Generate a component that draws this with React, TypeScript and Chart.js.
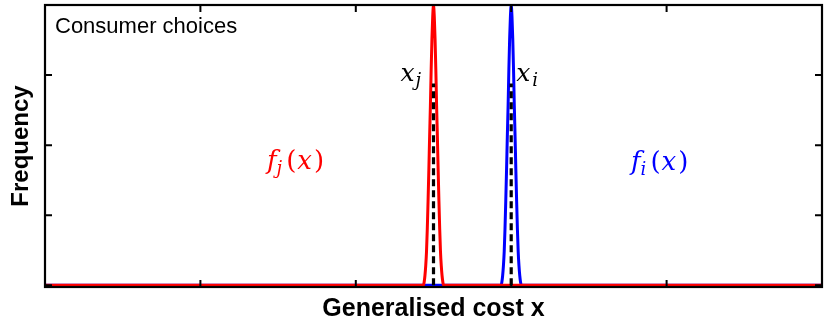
import React, { useEffect, useRef } from "react";
import { Chart, registerables } from "chart.js";

Chart.register(...registerables);

// ---- data ----
const redX = [0, 2.435, 2.44, 2.445, 2.45, 2.455, 2.46, 2.465, 2.47, 2.475, 2.48, 2.485, 2.49, 2.495, 2.5, 2.505, 2.51, 2.515, 2.52, 2.525, 2.53, 2.535, 2.54, 2.545, 2.55, 2.555, 2.56, 2.565, 5];
const redY = [0, 0, 0.012, 0.035, 0.07, 0.12, 0.2, 0.3, 0.41, 0.53, 0.64, 0.77, 0.88, 0.96, 1.0, 0.96, 0.88, 0.77, 0.64, 0.53, 0.41, 0.3, 0.2, 0.12, 0.07, 0.035, 0.012, 0, 0];
const blueX = [0, 2.935, 2.94, 2.945, 2.95, 2.955, 2.96, 2.965, 2.97, 2.975, 2.98, 2.985, 2.99, 2.995, 3.0, 3.005, 3.01, 3.015, 3.02, 3.025, 3.03, 3.035, 3.04, 3.045, 3.05, 3.055, 3.06, 3.065, 5];
const blueY = [0, 0, 0.012, 0.035, 0.07, 0.12, 0.2, 0.3, 0.41, 0.53, 0.64, 0.77, 0.88, 0.96, 1.0, 0.96, 0.88, 0.77, 0.64, 0.53, 0.41, 0.3, 0.2, 0.12, 0.07, 0.035, 0.012, 0, 0];
const markerJ = [2.5, 2.5];
const markerI = [3.0, 3.0];
const markerY = [0, 0.72];

const xMin = 0;
const xMax = 5;
const xStep = 1;
const yMin = -0.006;
const yMax = 1;
const yStep = 0.25;

const panelTitle = "Consumer choices";
const xTitle = "Generalised cost x";
const yTitle = "Frequency";

const RED = "#ff0000";
const BLUE = "#0000ff";

type Run = { t: string; italic?: boolean; sub?: boolean; gap?: number };

function drawMath(ctx: CanvasRenderingContext2D, runs: Run[], x: number, y: number, color: string, size: number) {
  let cx = x;
  ctx.fillStyle = color;
  ctx.textBaseline = "alphabetic";
  ctx.textAlign = "left";
  for (const r of runs) {
    const s = r.sub ? Math.round(size * 0.7) : size;
    ctx.font = `${r.italic ? "italic " : ""}${s}px "DejaVu Serif", serif`;
    const yy = r.sub ? y + 5 : y;
    ctx.fillText(r.t, cx, yy);
    cx += ctx.measureText(r.t).width + (r.gap || 0);
  }
}

const overlay = {
  id: "overlay",
  afterDatasetsDraw(chart: any) {
    const { ctx, chartArea: a, scales } = chart;
    const xs = scales.x;
    const ys = scales.y;
    ctx.save();
    // frame
    ctx.strokeStyle = "#000";
    ctx.lineWidth = 2.2;
    ctx.strokeRect(a.left, a.top, a.right - a.left, a.bottom - a.top);
    // inward ticks
    ctx.lineWidth = 2;
    const tl = 7;
    for (const t of xs.ticks) {
      const px = xs.getPixelForValue(t.value);
      ctx.beginPath();
      ctx.moveTo(px, a.bottom);
      ctx.lineTo(px, a.bottom - tl);
      ctx.moveTo(px, a.top);
      ctx.lineTo(px, a.top + tl);
      ctx.stroke();
    }
    for (const t of ys.ticks) {
      const py = ys.getPixelForValue(t.value);
      ctx.beginPath();
      ctx.moveTo(a.left, py);
      ctx.lineTo(a.left + tl, py);
      ctx.moveTo(a.right, py);
      ctx.lineTo(a.right - tl, py);
      ctx.stroke();
    }
    // panel title
    ctx.fillStyle = "#000";
    ctx.font = '22px "Liberation Sans", Arial, sans-serif';
    ctx.textAlign = "left";
    ctx.textBaseline = "alphabetic";
    ctx.fillText(panelTitle, a.left + 10, a.top + 28);
    // axis titles
    ctx.font = 'bold 25px "Liberation Sans", Arial, sans-serif';
    ctx.textAlign = "center";
    ctx.fillText(xTitle, (a.left + a.right) / 2, 316);
    ctx.font = 'bold 24px "Liberation Sans", Arial, sans-serif';
    ctx.save();
    ctx.translate(28, (a.top + a.bottom) / 2);
    ctx.rotate(-Math.PI / 2);
    ctx.fillText(yTitle, 0, 0);
    ctx.restore();
    // math labels
    const pj = xs.getPixelForValue(markerJ[0]);
    const pi = xs.getPixelForValue(markerI[0]);
    drawMath(ctx, [{ t: "x", italic: true, gap: 1 }, { t: "j", italic: true, sub: true }], pj - 33, 81, "#000", 25);
    drawMath(ctx, [{ t: "x", italic: true, gap: 2 }, { t: "i", italic: true, sub: true }], pi + 5, 81, "#000", 25);
    drawMath(ctx, [{ t: "f", italic: true, gap: 0 }, { t: "j", italic: true, sub: true, gap: 4 }, { t: "(", gap: 1 }, { t: "x", italic: true, gap: 2 }, { t: ")" }], 267, 169, RED, 26);
    drawMath(ctx, [{ t: "f", italic: true, gap: 0 }, { t: "i", italic: true, sub: true, gap: 4 }, { t: "(", gap: 1 }, { t: "x", italic: true, gap: 2 }, { t: ")" }], 631, 170, BLUE, 26);
    ctx.restore();
  },
};

export default function App() {
  const ref = useRef<HTMLCanvasElement | null>(null);
  useEffect(() => {
    document.body.style.margin = "0";
    const zip = (xs: number[], ys: number[]) => xs.map((x, i) => ({ x, y: ys[i] }));
    const chart = new Chart(ref.current as HTMLCanvasElement, {
      type: "line",
      data: {
        datasets: [
          { data: zip(markerJ, markerY), borderColor: "#000", borderWidth: 3.2, borderDash: [7, 4], pointRadius: 0, fill: false, order: 0 },
          { data: zip(markerI, markerY), borderColor: "#000", borderWidth: 3.2, borderDash: [7, 4], pointRadius: 0, fill: false, order: 0 },
          { data: zip(redX, redY), borderColor: RED, borderWidth: 3, pointRadius: 0, fill: false, cubicInterpolationMode: "monotone", order: 1 },
          { data: zip(blueX, blueY), borderColor: BLUE, borderWidth: 3, pointRadius: 0, fill: false, cubicInterpolationMode: "monotone", order: 2 },
        ],
      },
      options: {
        animation: false,
        responsive: true,
        maintainAspectRatio: false,
        layout: { padding: { left: 45, right: 8, top: 5, bottom: 39 } },
        plugins: { legend: { display: false }, tooltip: { enabled: false } },
        scales: {
          x: { type: "linear", display: false, min: xMin, max: xMax, ticks: { stepSize: xStep } },
          y: { type: "linear", display: false, min: yMin, max: yMax, ticks: { stepSize: yStep, includeBounds: false } },
        },
      },
      plugins: [overlay],
    });
    return () => chart.destroy();
  }, []);
  return (
    <div style={{ position: "relative", width: 830, height: 326, background: "#fff" }}>
      <canvas ref={ref} />
    </div>
  );
}
